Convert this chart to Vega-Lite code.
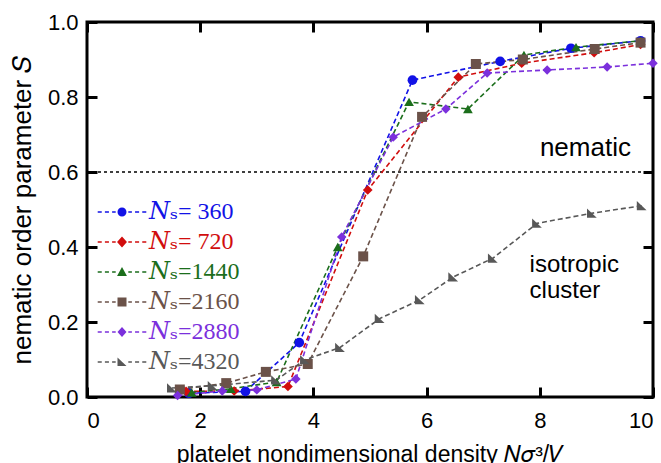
{
  "$schema": "https://vega.github.io/schema/vega-lite/v6.json",
  "autosize": {"type": "none"},
  "padding": {"left": 87, "top": 22, "right": 8, "bottom": 66},
  "width": 566,
  "height": 375,
  "background": "white",
  "config": {
    "font": "Liberation Sans",
    "view": {"stroke": "black", "strokeWidth": 3},
    "axis": {"grid": false, "domain": false, "tickColor": "black", "tickWidth": 3, "labelColor": "black", "titleColor": "black", "titleFontWeight": "normal"},
    "legend": {"labelFont": "Times New Roman, Liberation Serif, DejaVu Serif, serif"}
  },
  "data": {
    "values": [
      {"series": "𝑁ₛ= 360", "density": 1.8, "S": 0.01},
      {"series": "𝑁ₛ= 360", "density": 2.8, "S": 0.015},
      {"series": "𝑁ₛ= 360", "density": 3.75, "S": 0.145},
      {"series": "𝑁ₛ= 360", "density": 5.75, "S": 0.845},
      {"series": "𝑁ₛ= 360", "density": 7.3, "S": 0.895},
      {"series": "𝑁ₛ= 360", "density": 8.55, "S": 0.93},
      {"series": "𝑁ₛ= 360", "density": 9.78, "S": 0.95},

      {"series": "𝑁ₛ= 720", "density": 1.75, "S": 0.015},
      {"series": "𝑁ₛ= 720", "density": 2.6, "S": 0.016},
      {"series": "𝑁ₛ= 720", "density": 3.55, "S": 0.028},
      {"series": "𝑁ₛ= 720", "density": 4.96, "S": 0.552},
      {"series": "𝑁ₛ= 720", "density": 6.56, "S": 0.853},
      {"series": "𝑁ₛ= 720", "density": 7.68, "S": 0.89},
      {"series": "𝑁ₛ= 720", "density": 8.96, "S": 0.918},
      {"series": "𝑁ₛ= 720", "density": 9.78, "S": 0.94},

      {"series": "𝑁ₛ=1440", "density": 1.85, "S": 0.012},
      {"series": "𝑁ₛ=1440", "density": 2.54, "S": 0.022},
      {"series": "𝑁ₛ=1440", "density": 3.35, "S": 0.04},
      {"series": "𝑁ₛ=1440", "density": 4.43, "S": 0.4},
      {"series": "𝑁ₛ=1440", "density": 5.69, "S": 0.787},
      {"series": "𝑁ₛ=1440", "density": 6.73, "S": 0.768},
      {"series": "𝑁ₛ=1440", "density": 7.72, "S": 0.912},
      {"series": "𝑁ₛ=1440", "density": 8.64, "S": 0.933},
      {"series": "𝑁ₛ=1440", "density": 9.78, "S": 0.95},

      {"series": "𝑁ₛ=2160", "density": 1.64, "S": 0.02},
      {"series": "𝑁ₛ=2160", "density": 2.46, "S": 0.037},
      {"series": "𝑁ₛ=2160", "density": 3.16, "S": 0.067},
      {"series": "𝑁ₛ=2160", "density": 3.9, "S": 0.088},
      {"series": "𝑁ₛ=2160", "density": 4.88, "S": 0.375},
      {"series": "𝑁ₛ=2160", "density": 5.92, "S": 0.747},
      {"series": "𝑁ₛ=2160", "density": 6.87, "S": 0.888},
      {"series": "𝑁ₛ=2160", "density": 7.7, "S": 0.9},
      {"series": "𝑁ₛ=2160", "density": 8.97, "S": 0.928},
      {"series": "𝑁ₛ=2160", "density": 9.78, "S": 0.945},

      {"series": "𝑁ₛ=2880", "density": 1.6, "S": 0.004},
      {"series": "𝑁ₛ=2880", "density": 2.39, "S": 0.016},
      {"series": "𝑁ₛ=2880", "density": 3.0, "S": 0.019},
      {"series": "𝑁ₛ=2880", "density": 3.69, "S": 0.048},
      {"series": "𝑁ₛ=2880", "density": 4.5, "S": 0.427},
      {"series": "𝑁ₛ=2880", "density": 5.41, "S": 0.693},
      {"series": "𝑁ₛ=2880", "density": 6.34, "S": 0.768},
      {"series": "𝑁ₛ=2880", "density": 7.07, "S": 0.864},
      {"series": "𝑁ₛ=2880", "density": 8.13, "S": 0.872},
      {"series": "𝑁ₛ=2880", "density": 9.19, "S": 0.88},
      {"series": "𝑁ₛ=2880", "density": 10.0, "S": 0.89},

      {"series": "𝑁ₛ=4320", "density": 1.5, "S": 0.024},
      {"series": "𝑁ₛ=4320", "density": 2.22, "S": 0.03},
      {"series": "𝑁ₛ=4320", "density": 3.34, "S": 0.045},
      {"series": "𝑁ₛ=4320", "density": 3.85, "S": 0.099},
      {"series": "𝑁ₛ=4320", "density": 4.47, "S": 0.132},
      {"series": "𝑁ₛ=4320", "density": 5.17, "S": 0.209},
      {"series": "𝑁ₛ=4320", "density": 5.88, "S": 0.259},
      {"series": "𝑁ₛ=4320", "density": 6.47, "S": 0.32},
      {"series": "𝑁ₛ=4320", "density": 7.17, "S": 0.37},
      {"series": "𝑁ₛ=4320", "density": 7.95, "S": 0.463},
      {"series": "𝑁ₛ=4320", "density": 8.92, "S": 0.49},
      {"series": "𝑁ₛ=4320", "density": 9.8, "S": 0.51}
    ]
  },
  "resolve": {"axis": {"x": "independent", "y": "independent"}},
  "layer": [
    {
      "transform": [{"filter": "false"}],
      "mark": {"type": "point", "filled": true},
      "encoding": {
        "x": {"field": "density", "type": "quantitative", "axis": null},
        "y": {"field": "S", "type": "quantitative", "axis": null},
        "color": {
          "field": "series", "type": "nominal",
          "scale": {
            "domain": ["𝑁ₛ= 360", "𝑁ₛ= 720", "𝑁ₛ=1440", "𝑁ₛ=2160", "𝑁ₛ=2880", "𝑁ₛ=4320"],
            "range": ["#1212e6", "#d10d0d", "#1b6e1b", "#6b5249", "#7b30dc", "#585858"]
          },
          "legend": {
            "orient": "none", "legendX": 23, "legendY": 178,
            "title": null, "symbolSize": 81, "symbolOpacity": 1, "labelFontSize": 24,
            "labelFont": "Times New Roman, Liberation Serif, DejaVu Serif, serif",
            "labelColor": {"expr": "scale('color', datum.value)"},
            "labelOffset": 15, "rowPadding": 6, "symbolStrokeWidth": 0
          }
        },
        "shape": {
          "field": "series", "type": "nominal",
          "legend": {
            "orient": "none", "legendX": 23, "legendY": 178,
            "title": null, "symbolSize": 81, "symbolOpacity": 1, "labelFontSize": 24,
            "labelFont": "Times New Roman, Liberation Serif, DejaVu Serif, serif",
            "labelColor": {"expr": "scale('color', datum.value)"},
            "labelOffset": 15, "rowPadding": 6, "symbolStrokeWidth": 0
          },
          "scale": {
            "domain": ["𝑁ₛ= 360", "𝑁ₛ= 720", "𝑁ₛ=1440", "𝑁ₛ=2160", "𝑁ₛ=2880", "𝑁ₛ=4320"],
            "range": [
              "M1,0A1,1,0,1,1,-1,0A1,1,0,1,1,1,0ZM-5.4,-0.17L-4.5,-0.17L-4.5,0.17L-5.4,0.17ZM-3.8,-0.17L-2.9,-0.17L-2.9,0.17L-3.8,0.17ZM-2.2,-0.17L-1.4,-0.17L-1.4,0.17L-2.2,0.17ZM1.4,-0.17L2.2,-0.17L2.2,0.17L1.4,0.17ZM2.9,-0.17L3.8,-0.17L3.8,0.17L2.9,0.17ZM4.5,-0.17L5.4,-0.17L5.4,0.17L4.5,0.17Z",
              "M0,-1.2L1.1,0L0,1.2L-1.1,0ZM-5.4,-0.17L-4.5,-0.17L-4.5,0.17L-5.4,0.17ZM-3.8,-0.17L-2.9,-0.17L-2.9,0.17L-3.8,0.17ZM-2.2,-0.17L-1.4,-0.17L-1.4,0.17L-2.2,0.17ZM1.4,-0.17L2.2,-0.17L2.2,0.17L1.4,0.17ZM2.9,-0.17L3.8,-0.17L3.8,0.17L2.9,0.17ZM4.5,-0.17L5.4,-0.17L5.4,0.17L4.5,0.17Z",
              "M0,-1.1L1.1,0.9L-1.1,0.9ZM-5.4,-0.17L-4.5,-0.17L-4.5,0.17L-5.4,0.17ZM-3.8,-0.17L-2.9,-0.17L-2.9,0.17L-3.8,0.17ZM-2.2,-0.17L-1.4,-0.17L-1.4,0.17L-2.2,0.17ZM1.4,-0.17L2.2,-0.17L2.2,0.17L1.4,0.17ZM2.9,-0.17L3.8,-0.17L3.8,0.17L2.9,0.17ZM4.5,-0.17L5.4,-0.17L5.4,0.17L4.5,0.17Z",
              "M-1,-1L1,-1L1,1L-1,1ZM-5.4,-0.17L-4.5,-0.17L-4.5,0.17L-5.4,0.17ZM-3.8,-0.17L-2.9,-0.17L-2.9,0.17L-3.8,0.17ZM-2.2,-0.17L-1.4,-0.17L-1.4,0.17L-2.2,0.17ZM1.4,-0.17L2.2,-0.17L2.2,0.17L1.4,0.17ZM2.9,-0.17L3.8,-0.17L3.8,0.17L2.9,0.17ZM4.5,-0.17L5.4,-0.17L5.4,0.17L4.5,0.17Z",
              "M0,-1.1L1,0L0,1.1L-1,0ZM-5.4,-0.17L-4.5,-0.17L-4.5,0.17L-5.4,0.17ZM-3.8,-0.17L-2.9,-0.17L-2.9,0.17L-3.8,0.17ZM-2.2,-0.17L-1.4,-0.17L-1.4,0.17L-2.2,0.17ZM1.4,-0.17L2.2,-0.17L2.2,0.17L1.4,0.17ZM2.9,-0.17L3.8,-0.17L3.8,0.17L2.9,0.17ZM4.5,-0.17L5.4,-0.17L5.4,0.17L4.5,0.17Z",
              "M-1,-1L1,0.9L-1,0.9ZM-5.4,-0.17L-4.5,-0.17L-4.5,0.17L-5.4,0.17ZM-3.8,-0.17L-2.9,-0.17L-2.9,0.17L-3.8,0.17ZM-2.2,-0.17L-1.4,-0.17L-1.4,0.17L-2.2,0.17ZM1.4,-0.17L2.2,-0.17L2.2,0.17L1.4,0.17ZM2.9,-0.17L3.8,-0.17L3.8,0.17L2.9,0.17ZM4.5,-0.17L5.4,-0.17L5.4,0.17L4.5,0.17Z"
            ]
          }
        }
      }
    },
    {
      "data": {"values": [{}]},
      "mark": {"type": "rule", "color": "black", "strokeWidth": 1.5, "strokeDash": [3, 3]},
      "encoding": {"y": {"datum": 0.6, "type": "quantitative", "axis": null}}
    },
    {
      "mark": {"type": "line", "strokeWidth": 1.6, "strokeDash": [5, 3]},
      "encoding": {
        "x": {
          "field": "density", "type": "quantitative",
          "scale": {"domain": [0, 10], "nice": false, "zero": false},
          "axis": {
            "values": [0, 2, 4, 6, 8, 10], "tickSize": -10, "labelFontSize": 22, "labelPadding": 23,
            "title": "platelet nondimensional density 𝑁𝜎³/𝑉", "titleFontSize": 23, "titlePadding": 12
          }
        },
        "y": {
          "field": "S", "type": "quantitative",
          "scale": {"domain": [0, 1], "nice": false},
          "axis": {
            "values": [0, 0.2, 0.4, 0.6, 0.8, 1.0], "format": ".1f", "tickSize": -10, "labelFontSize": 22, "labelPadding": 19,
            "title": "nematic order parameter 𝑆", "titleFontSize": 26, "titlePadding": 12
          }
        },
        "color": {"field": "series", "type": "nominal", "legend": null},
        "detail": {"field": "series"}
      }
    },
    {
      "transform": [{"filter": "datum.series == '𝑁ₛ= 360'"}],
      "mark": {"type": "point", "shape": "circle", "filled": true, "opacity": 1, "size": 95},
      "encoding": {
        "x": {"field": "density", "type": "quantitative", "axis": null},
        "y": {"field": "S", "type": "quantitative", "axis": null},
        "color": {"field": "series", "type": "nominal", "legend": null}
      }
    },
    {
      "transform": [{"filter": "datum.series == '𝑁ₛ= 720'"}],
      "mark": {"type": "point", "shape": "diamond", "filled": true, "opacity": 1, "size": 95},
      "encoding": {
        "x": {"field": "density", "type": "quantitative", "axis": null},
        "y": {"field": "S", "type": "quantitative", "axis": null},
        "color": {"field": "series", "type": "nominal", "legend": null}
      }
    },
    {
      "transform": [{"filter": "datum.series == '𝑁ₛ=1440'"}],
      "mark": {"type": "point", "shape": "triangle-up", "filled": true, "opacity": 1, "size": 95},
      "encoding": {
        "x": {"field": "density", "type": "quantitative", "axis": null},
        "y": {"field": "S", "type": "quantitative", "axis": null},
        "color": {"field": "series", "type": "nominal", "legend": null}
      }
    },
    {
      "transform": [{"filter": "datum.series == '𝑁ₛ=2160'"}],
      "mark": {"type": "point", "shape": "square", "filled": true, "opacity": 1, "size": 100},
      "encoding": {
        "x": {"field": "density", "type": "quantitative", "axis": null},
        "y": {"field": "S", "type": "quantitative", "axis": null},
        "color": {"field": "series", "type": "nominal", "legend": null}
      }
    },
    {
      "transform": [{"filter": "datum.series == '𝑁ₛ=2880'"}],
      "mark": {"type": "point", "shape": "diamond", "filled": true, "opacity": 1, "size": 90},
      "encoding": {
        "x": {"field": "density", "type": "quantitative", "axis": null},
        "y": {"field": "S", "type": "quantitative", "axis": null},
        "color": {"field": "series", "type": "nominal", "legend": null}
      }
    },
    {
      "transform": [{"filter": "datum.series == '𝑁ₛ=4320'"}],
      "mark": {"type": "point", "shape": "M-1,-1L1,0.9L-1,0.9Z", "filled": true, "opacity": 1, "size": 95},
      "encoding": {
        "x": {"field": "density", "type": "quantitative", "axis": null},
        "y": {"field": "S", "type": "quantitative", "axis": null},
        "color": {"field": "series", "type": "nominal", "legend": null}
      }
    },
    {
      "mark": {"type": "point", "opacity": 0},
      "encoding": {
        "x": {"field": "density", "type": "quantitative", "axis": {"orient": "top", "values": [0, 2, 4, 6, 8, 10], "tickSize": -10, "labels": false, "title": null}},
        "y": {"field": "S", "type": "quantitative", "axis": {"orient": "right", "values": [0, 0.2, 0.4, 0.6, 0.8, 1.0], "tickSize": -10, "labels": false, "title": null}}
      }
    },
    {
      "data": {"values": [{}]},
      "mark": {"type": "text", "text": "nematic", "fontSize": 26, "fontWeight": "normal", "align": "right", "baseline": "middle", "color": "black"},
      "encoding": {
        "x": {"datum": 9.61, "type": "quantitative", "axis": null},
        "y": {"datum": 0.665, "type": "quantitative", "axis": null}
      }
    },
    {
      "data": {"values": [{}]},
      "mark": {"type": "text", "text": "isotropic", "fontSize": 24, "fontWeight": "normal", "align": "left", "baseline": "middle", "color": "black"},
      "encoding": {
        "x": {"datum": 7.82, "type": "quantitative", "axis": null},
        "y": {"datum": 0.352, "type": "quantitative", "axis": null}
      }
    },
    {
      "data": {"values": [{}]},
      "mark": {"type": "text", "text": "cluster", "fontSize": 24, "fontWeight": "normal", "align": "left", "baseline": "middle", "color": "black"},
      "encoding": {
        "x": {"datum": 7.82, "type": "quantitative", "axis": null},
        "y": {"datum": 0.284, "type": "quantitative", "axis": null}
      }
    }
  ]
}
